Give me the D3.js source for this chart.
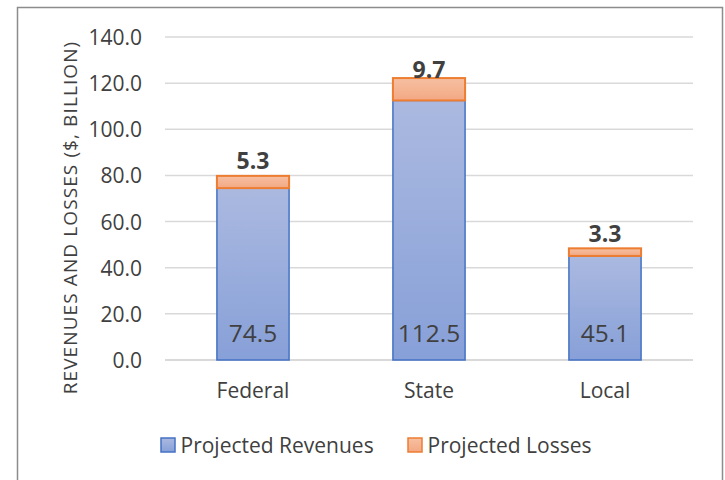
<!DOCTYPE html>
<html><head><meta charset="utf-8">
<script src="https://cdn.jsdelivr.net/npm/d3@7"></script>
<style>body{margin:0;background:#fff;} text{font-family:"Open Sans",sans-serif;}</style>
</head><body>
<svg id="c" width="725" height="480"></svg>
<script>
const categories = ["Federal","State","Local"];
const revenues = [74.5,112.5,45.1];
const losses = [5.3,9.7,3.3];
const yTicks = [0,20,40,60,80,100,120,140];
const seriesNames = ["Projected Revenues","Projected Losses"];

const svg = d3.select("#c");
const defs = svg.append("defs");
const gb = defs.append("linearGradient").attr("id","gb").attr("x1",0).attr("y1",0).attr("x2",0).attr("y2",1);
gb.append("stop").attr("offset","0%").attr("stop-color","#abb9e0");
gb.append("stop").attr("offset","100%").attr("stop-color","#87a0d8");
const go = defs.append("linearGradient").attr("id","go").attr("x1",0).attr("y1",0).attr("x2",0).attr("y2",1);
go.append("stop").attr("offset","0%").attr("stop-color","#f6c0a2");
go.append("stop").attr("offset","100%").attr("stop-color","#f3a883");

svg.append("rect").attr("x",17.5).attr("y",7.5).attr("width",705).attr("height",480).attr("fill","none").attr("stroke","#8c8c8c").attr("stroke-width",1.5);

const x = d3.scaleBand().domain(categories).range([165,693]).paddingInner(0.59).paddingOuter(0.295);
const y = d3.scaleLinear().domain([0,140]).range([360,37]);
const col = "#404040";
const ff = "'Open Sans',sans-serif";

const grid = svg.append("g");
grid.selectAll("line").data(yTicks).join("line")
  .attr("x1",165).attr("x2",693).attr("y1",d=>y(d)).attr("y2",d=>y(d))
  .attr("stroke","#d9d9d9").attr("stroke-width",d=>d===0?2:1.5);

const yAxis = d3.axisLeft(y).tickValues(yTicks).tickFormat(d3.format(".1f")).tickSize(0).tickPadding(0);
const ya = svg.append("g").attr("transform","translate(142,0)").call(yAxis);
ya.select(".domain").remove();
ya.selectAll("text").attr("font-size","21px").attr("fill",col).attr("font-family",ff).attr("dy","0.36em");

const xAxis = d3.axisBottom(x).tickSize(0).tickPadding(0);
const xa = svg.append("g").attr("transform","translate(0,0)").call(xAxis);
xa.select(".domain").remove();
xa.selectAll("text").attr("font-size","21px").attr("fill",col).attr("font-family",ff).attr("dy",null).attr("y",398);

svg.append("text").attr("transform","translate(77,217.5) rotate(-90)").attr("text-anchor","middle")
  .attr("font-size","19px").attr("letter-spacing","1.1px").attr("fill",col).text("REVENUES AND LOSSES ($, BILLION)");

const g = svg.append("g");
g.selectAll("rect.rev").data(categories).join("rect").attr("class","rev")
  .attr("x",d=>x(d)).attr("width",x.bandwidth())
  .attr("y",(d,i)=>y(revenues[i])).attr("height",(d,i)=>y(0)-y(revenues[i]))
  .attr("fill","url(#gb)").attr("stroke","#4472c4").attr("stroke-width",1.5);
g.selectAll("rect.los").data(categories).join("rect").attr("class","los")
  .attr("x",d=>x(d)).attr("width",x.bandwidth())
  .attr("y",(d,i)=>y(revenues[i]+losses[i])).attr("height",(d,i)=>y(revenues[i])-y(revenues[i]+losses[i]))
  .attr("fill","url(#go)").attr("stroke","#ed7d31").attr("stroke-width",2);

g.selectAll("text.rv").data(categories).join("text").attr("class","rv")
  .attr("x",d=>x(d)+x.bandwidth()/2).attr("y",y(0)-18).attr("text-anchor","middle")
  .attr("font-size","24.5px").attr("fill",col).text((d,i)=>revenues[i].toFixed(1));
g.selectAll("text.lv").data(categories).join("text").attr("class","lv")
  .attr("x",d=>x(d)+x.bandwidth()/2).attr("y",(d,i)=>Math.max(y(revenues[i]+losses[i])-6.5, y(140)+40.5)).attr("text-anchor","middle")
  .attr("font-size","23px").attr("font-weight","bold").attr("fill",col).text((d,i)=>losses[i].toFixed(1));

const leg = svg.append("g");
const legX = [161,408];
const fills = ["url(#gb)","url(#go)"], strokes = ["#4472c4","#ed7d31"];
seriesNames.forEach((s,i)=>{
  leg.append("rect").attr("x",legX[i]).attr("y",438).attr("width",14).attr("height",14)
    .attr("fill",fills[i]).attr("stroke",strokes[i]).attr("stroke-width",1.5);
  leg.append("text").attr("x",legX[i]+19.5).attr("y",453).attr("font-size","21px").attr("fill",col).text(s);
});
</script>
</body></html>
